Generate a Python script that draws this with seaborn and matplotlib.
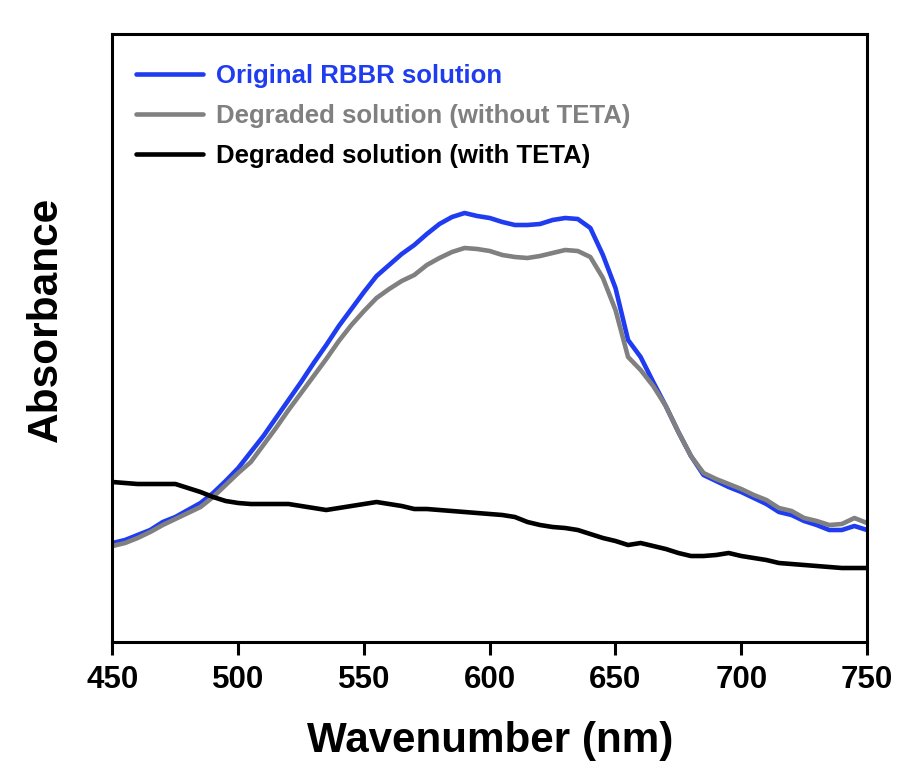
import numpy as np
import pandas as pd
import matplotlib
matplotlib.use("Agg")
import matplotlib.pyplot as plt
import seaborn as sns

# UV-Vis absorption spectra, 450-750 nm sampled every 5 nm
wavelength = list(range(450, 751, 5))

original_rbbr = [
    0.198, 0.204, 0.214, 0.224, 0.240, 0.250, 0.264, 0.278, 0.298, 0.322,
    0.348, 0.380, 0.412, 0.448, 0.484, 0.520, 0.558, 0.594, 0.632, 0.666,
    0.700, 0.732, 0.754, 0.776, 0.794, 0.816, 0.836, 0.850, 0.858, 0.852,
    0.848, 0.840, 0.834, 0.834, 0.836, 0.844, 0.848, 0.846, 0.828, 0.774,
    0.708, 0.604, 0.570, 0.520, 0.472, 0.420, 0.372, 0.334, 0.322, 0.310,
    0.300, 0.288, 0.276, 0.260, 0.254, 0.242, 0.234, 0.224, 0.224, 0.232,
    0.224,
]

degraded_without_teta = [
    0.192, 0.198, 0.208, 0.220, 0.234, 0.246, 0.258, 0.270, 0.290, 0.314,
    0.338, 0.360, 0.394, 0.428, 0.464, 0.498, 0.532, 0.566, 0.602, 0.634,
    0.662, 0.688, 0.706, 0.722, 0.734, 0.754, 0.768, 0.780, 0.788, 0.786,
    0.782, 0.774, 0.770, 0.768, 0.772, 0.778, 0.784, 0.782, 0.770, 0.728,
    0.664, 0.570, 0.544, 0.512, 0.472, 0.420, 0.372, 0.338, 0.326, 0.316,
    0.306, 0.294, 0.284, 0.268, 0.262, 0.248, 0.242, 0.234, 0.236, 0.248,
    0.238,
]

degraded_with_teta = [
    0.320, 0.318, 0.316, 0.316, 0.316, 0.316, 0.308, 0.300, 0.290, 0.282,
    0.278, 0.276, 0.276, 0.276, 0.276, 0.272, 0.268, 0.264, 0.268, 0.272,
    0.276, 0.280, 0.276, 0.272, 0.266, 0.266, 0.264, 0.262, 0.260, 0.258,
    0.256, 0.254, 0.250, 0.240, 0.234, 0.230, 0.228, 0.224, 0.216, 0.208,
    0.202, 0.194, 0.198, 0.192, 0.186, 0.178, 0.172, 0.172, 0.174, 0.178,
    0.172, 0.168, 0.164, 0.158, 0.156, 0.154, 0.152, 0.150, 0.148, 0.148,
    0.148,
]

series_labels = [
    "Original RBBR solution",
    "Degraded solution (without TETA)",
    "Degraded solution (with TETA)",
]
series_colors = ["#1f3cf0", "#808080", "#000000"]
x_ticks = [450, 500, 550, 600, 650, 700, 750]

df = pd.DataFrame({
    "Wavelength": wavelength * 3,
    "Absorbance": original_rbbr + degraded_without_teta + degraded_with_teta,
    "Sample": sum([[lab] * len(wavelength) for lab in series_labels], []),
})

sns.set_style("ticks")
plt.rcParams["font.family"] = ["Liberation Sans", "DejaVu Sans"]
plt.rcParams["font.weight"] = "bold"
plt.rcParams["text.color"] = "black"
plt.rcParams["axes.labelcolor"] = "black"

fig = plt.figure(figsize=(9.05, 7.78), dpi=100)
ax = fig.add_axes([0.1243, 0.1748, 0.8337, 0.7815])

sns.lineplot(
    data=df, x="Wavelength", y="Absorbance", hue="Sample",
    hue_order=series_labels, palette=series_colors,
    ax=ax, legend=False, sort=False,
)
for line in ax.get_lines():
    line.set_linewidth(3.3)
    line.set_solid_joinstyle("round")

ax.set_xlim(450, 750)
ax.set_ylim(0, 1.216)
ax.set_xticks(x_ticks)
ax.set_xticklabels([str(t) for t in x_ticks], fontsize=22.5, fontweight="bold",
                   color="black")
ax.set_yticks([])

ax.set_xlabel("Wavenumber (nm)", fontsize=30.3, fontweight="bold", labelpad=19,
              color="black")
ax.set_ylabel("Absorbance", fontsize=30.5, fontweight="bold", color="black")
ax.yaxis.set_label_coords(-0.0615, 0.53)

for side in ["left", "right", "top", "bottom"]:
    ax.spines[side].set_visible(True)
    ax.spines[side].set_linewidth(2.2)
    ax.spines[side].set_color("black")
ax.tick_params(axis="x", direction="out", length=9.5, width=2.2, pad=7, colors="black")

handles = ax.get_lines()[:3]
leg = ax.legend(
    handles, series_labels, loc="upper left", bbox_to_anchor=(0.018, 0.968),
    frameon=False, handlelength=2.6, handletextpad=0.5,
    labelspacing=0.62, borderaxespad=0.0,
    prop={"weight": "bold", "size": 18.5},
)
for text, color in zip(leg.get_texts(), series_colors):
    text.set_color(color)
for line in leg.get_lines():
    line.set_linewidth(3.3)

fig.savefig("out.png", dpi=100, facecolor="white")
